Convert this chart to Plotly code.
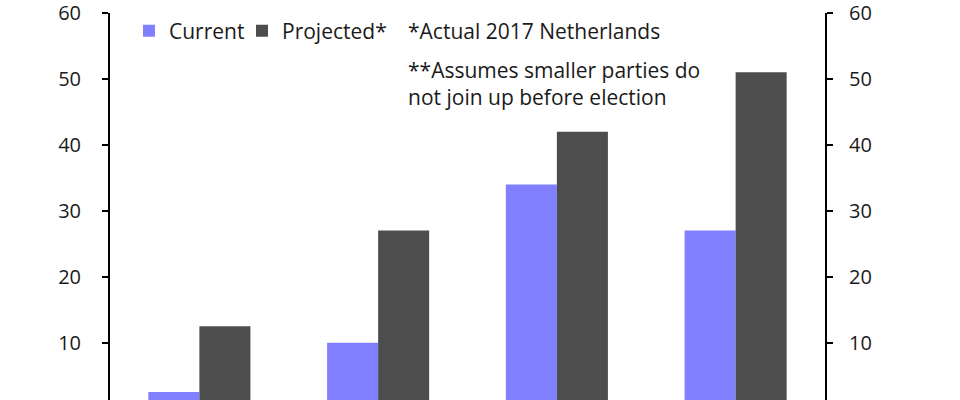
import plotly.graph_objects as go

categories = ["A", "B", "C", "D"]
current = [2.5, 10, 34, 27]
projected = [12.5, 27, 42, 51]
y_ticks = [10, 20, 30, 40, 50, 60]
note1 = "*Actual 2017 Netherlands"
note2 = "**Assumes smaller parties do<br>not join up before election"

FONT = "Open Sans"
TXT = "#1a1a1a"
L, R, T = 110, 825, 13
H = 400 - T
def py(ypix):
    return (400 - ypix) / H
def px(xpix):
    return (xpix - L) / (R - L)

fig = go.Figure()
fig.add_trace(go.Bar(x=categories, y=current, name="Current", legend="legend",
                     marker=dict(color="#8080FF", line=dict(width=0))))
fig.add_trace(go.Bar(x=categories, y=projected, name="Projected*", legend="legend2",
                     marker=dict(color="#4D4D4D", line=dict(width=0))))
fig.add_trace(go.Scatter(x=categories, y=projected, yaxis="y2", mode="markers",
                         marker=dict(opacity=0), showlegend=False, hoverinfo="skip"))

axis_common = dict(range=[1.3, 60], tickvals=y_ticks, showgrid=False, zeroline=False,
                   showline=True, linecolor="black", linewidth=2,
                   ticks="outside", ticklen=6, tickwidth=2, tickcolor="black",
                   tickfont=dict(family=FONT, size=20, color=TXT),
                   ticklabeloverflow="allow", automargin=False)
legend_common = dict(orientation="h", y=py(31), xanchor="left", yanchor="middle",
                     font=dict(family=FONT, size=21, color=TXT),
                     bgcolor="rgba(0,0,0,0)", itemwidth=30)
fig.update_layout(
    width=960, height=400,
    margin=dict(l=L, r=960 - R, t=T, b=0, autoexpand=False),
    plot_bgcolor="white", paper_bgcolor="white",
    barmode="group", bargap=0.429, bargroupgap=0,
    xaxis=dict(showticklabels=False, showline=False, showgrid=False, ticks="",
               automargin=False),
    yaxis=dict(side="left", ticklabelstandoff=17, **axis_common),
    yaxis2=dict(side="right", overlaying="y", ticklabelstandoff=12, **axis_common),
    showlegend=True,
    legend=dict(x=px(129), **legend_common),
    legend2=dict(x=px(242), **legend_common),
    font=dict(family=FONT),
)
fig.add_annotation(text=note1, xref="paper", yref="paper", x=px(406), y=py(31),
                   xanchor="left", yanchor="middle", showarrow=False,
                   font=dict(family=FONT, size=21, color=TXT))
fig.add_annotation(text=note2, xref="paper", yref="paper", x=px(406), y=py(83.5),
                   xanchor="left", yanchor="middle", showarrow=False, align="left",
                   font=dict(family=FONT, size=21, color=TXT))
fig.write_html("out.html", config={"displayModeBar": False},
               post_script="document.body.style.margin='0';")
